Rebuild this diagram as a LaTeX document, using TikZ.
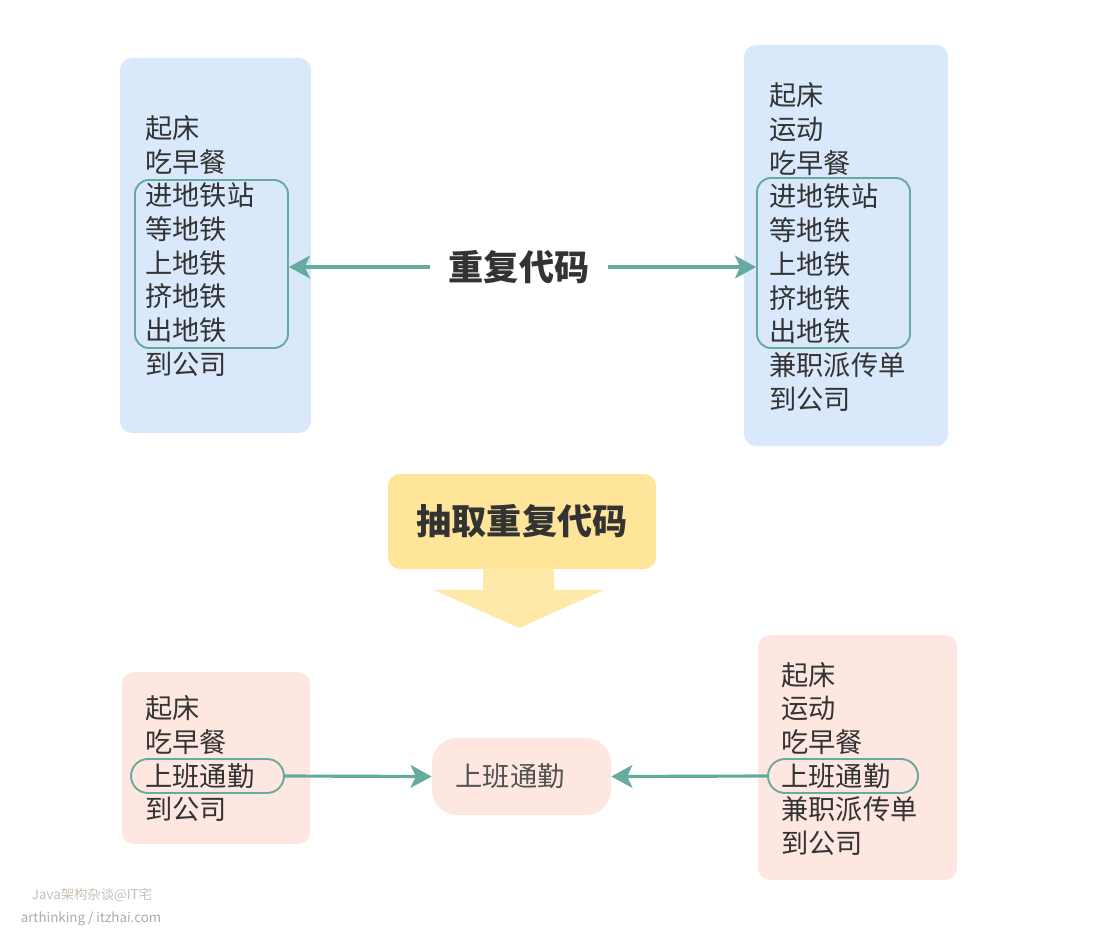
\documentclass[tikz,border=0pt]{standalone}
\usepackage{fontspec}
\setmainfont{Noto Sans CJK SC}
\usetikzlibrary{arrows.meta,positioning}
\definecolor{boxblue}{HTML}{DAE8FC}
\definecolor{boxpink}{HTML}{FFE7E1}
\definecolor{boxyellow}{HTML}{FFE599}
\definecolor{linkteal}{HTML}{67AB9F}
\definecolor{txtgray}{HTML}{333333}

\begin{document}
\begin{tikzpicture}[x=0.02cm,y=-0.02cm,
    txt/.style={anchor=west,inner sep=0pt,text=txtgray,font=\fontsize{15.5pt}{18pt}\selectfont},
    bigtxt/.style={text=txtgray,font=\fontsize{20pt}{24pt}\selectfont\bfseries},
    bluebox/.style={fill=boxblue,rounded corners=0.24cm},
    pinkbox/.style={fill=boxpink,rounded corners=0.24cm},
    grpbox/.style={draw=linkteal,line width=1.1pt,rounded corners=0.28cm,inner sep=0pt},
    pillbox/.style={draw=linkteal,line width=1.1pt,rounded corners=0.34cm,inner sep=0pt},
    arr/.style={draw=linkteal,line width=1.8pt,-{Stealth[length=12pt,width=13pt,inset=3pt]}},
    wm/.style={inner sep=0pt,font=\fontsize{7.6pt}{9pt}\selectfont}]
    \useasboundingbox (0,0) rectangle (1094,932);

    % background panels
    \path[bluebox] (120,58) rectangle (311,433);
    \path[bluebox] (744,45) rectangle (948,446);
    \path[pinkbox] (122,672) rectangle (310,844);
    \path[pinkbox] (758,635) rectangle (957,880);

    % day without reuse
    \foreach \i/\t in {0/起床,1/吃早餐,2/进地铁站,3/等地铁,4/上地铁,5/挤地铁,6/出地铁,7/到公司}
        \node[txt] (tl\i) at (145,128+33.7*\i) {\t};
    \foreach \i/\t in {0/起床,1/运动,2/吃早餐,3/进地铁站,4/等地铁,5/上地铁,6/挤地铁,7/出地铁,8/兼职派传单,9/到公司}
        \node[txt] (tr\i) at (769,95.5+33.7*\i) {\t};
    \node[grpbox,minimum width=153*0.02cm,minimum height=168*0.02cm] (gl) at (211.5,264) {};
    \node[grpbox,minimum width=153*0.02cm,minimum height=170*0.02cm] (gr) at (833.5,263) {};

    \node[bigtxt,inner xsep=10.5pt] (dup) at (519,267) {重复代码};
    \draw[arr] (dup.west) -- (dup.west -| gl.east);
    \draw[arr] (dup.east) -- (dup.east -| gr.west);

    % extract step
    \node[bigtxt,fill=boxyellow,rounded corners=0.24cm,minimum width=268*0.02cm,minimum height=95*0.02cm] (extract) at (522,521.5) {抽取重复代码};
    \fill[boxyellow!85!white] (483,569) -- (554,569) -- (554,590) -- (604,590) -- (519,628)
        -- (434,590) -- (483,590) -- cycle;

    % day with reuse
    \foreach \i/\t in {0/起床,1/吃早餐,2/上班通勤,3/到公司}
        \node[txt] (bl\i) at (145,708.5+33.7*\i) {\t};
    \foreach \i/\t in {0/起床,1/运动,2/吃早餐,3/上班通勤,4/兼职派传单,5/到公司}
        \node[txt] (br\i) at (781,674.8+33.7*\i) {\t};
    \node[pillbox,minimum width=153*0.02cm,minimum height=34*0.02cm] (pl) at (207.5,776) {};
    \node[pillbox,minimum width=150*0.02cm,minimum height=34*0.02cm] (pr) at (843,776) {};

    \node[fill=boxpink,rounded corners=0.5cm,minimum width=179*0.02cm,minimum height=77*0.02cm,
        text=txtgray!85,font=\fontsize{15.5pt}{18pt}\selectfont] (commute) at (521.5,776.5) {上班通勤\hspace*{0.46cm}};
    \draw[arr] (pl.east) -- (commute.west);
    \draw[arr] (pr.west) -- (commute.east);

    % watermark
    \node[wm,text={rgb,255:red,200;green,190;blue,180}] (wm1) at (92,895) {Java架构杂谈@IT宅};
    \node[wm,text={rgb,255:red,165;green,172;blue,180}] (wm2) at (91,919) {arthinking / itzhai.com};
\end{tikzpicture}
\end{document}
